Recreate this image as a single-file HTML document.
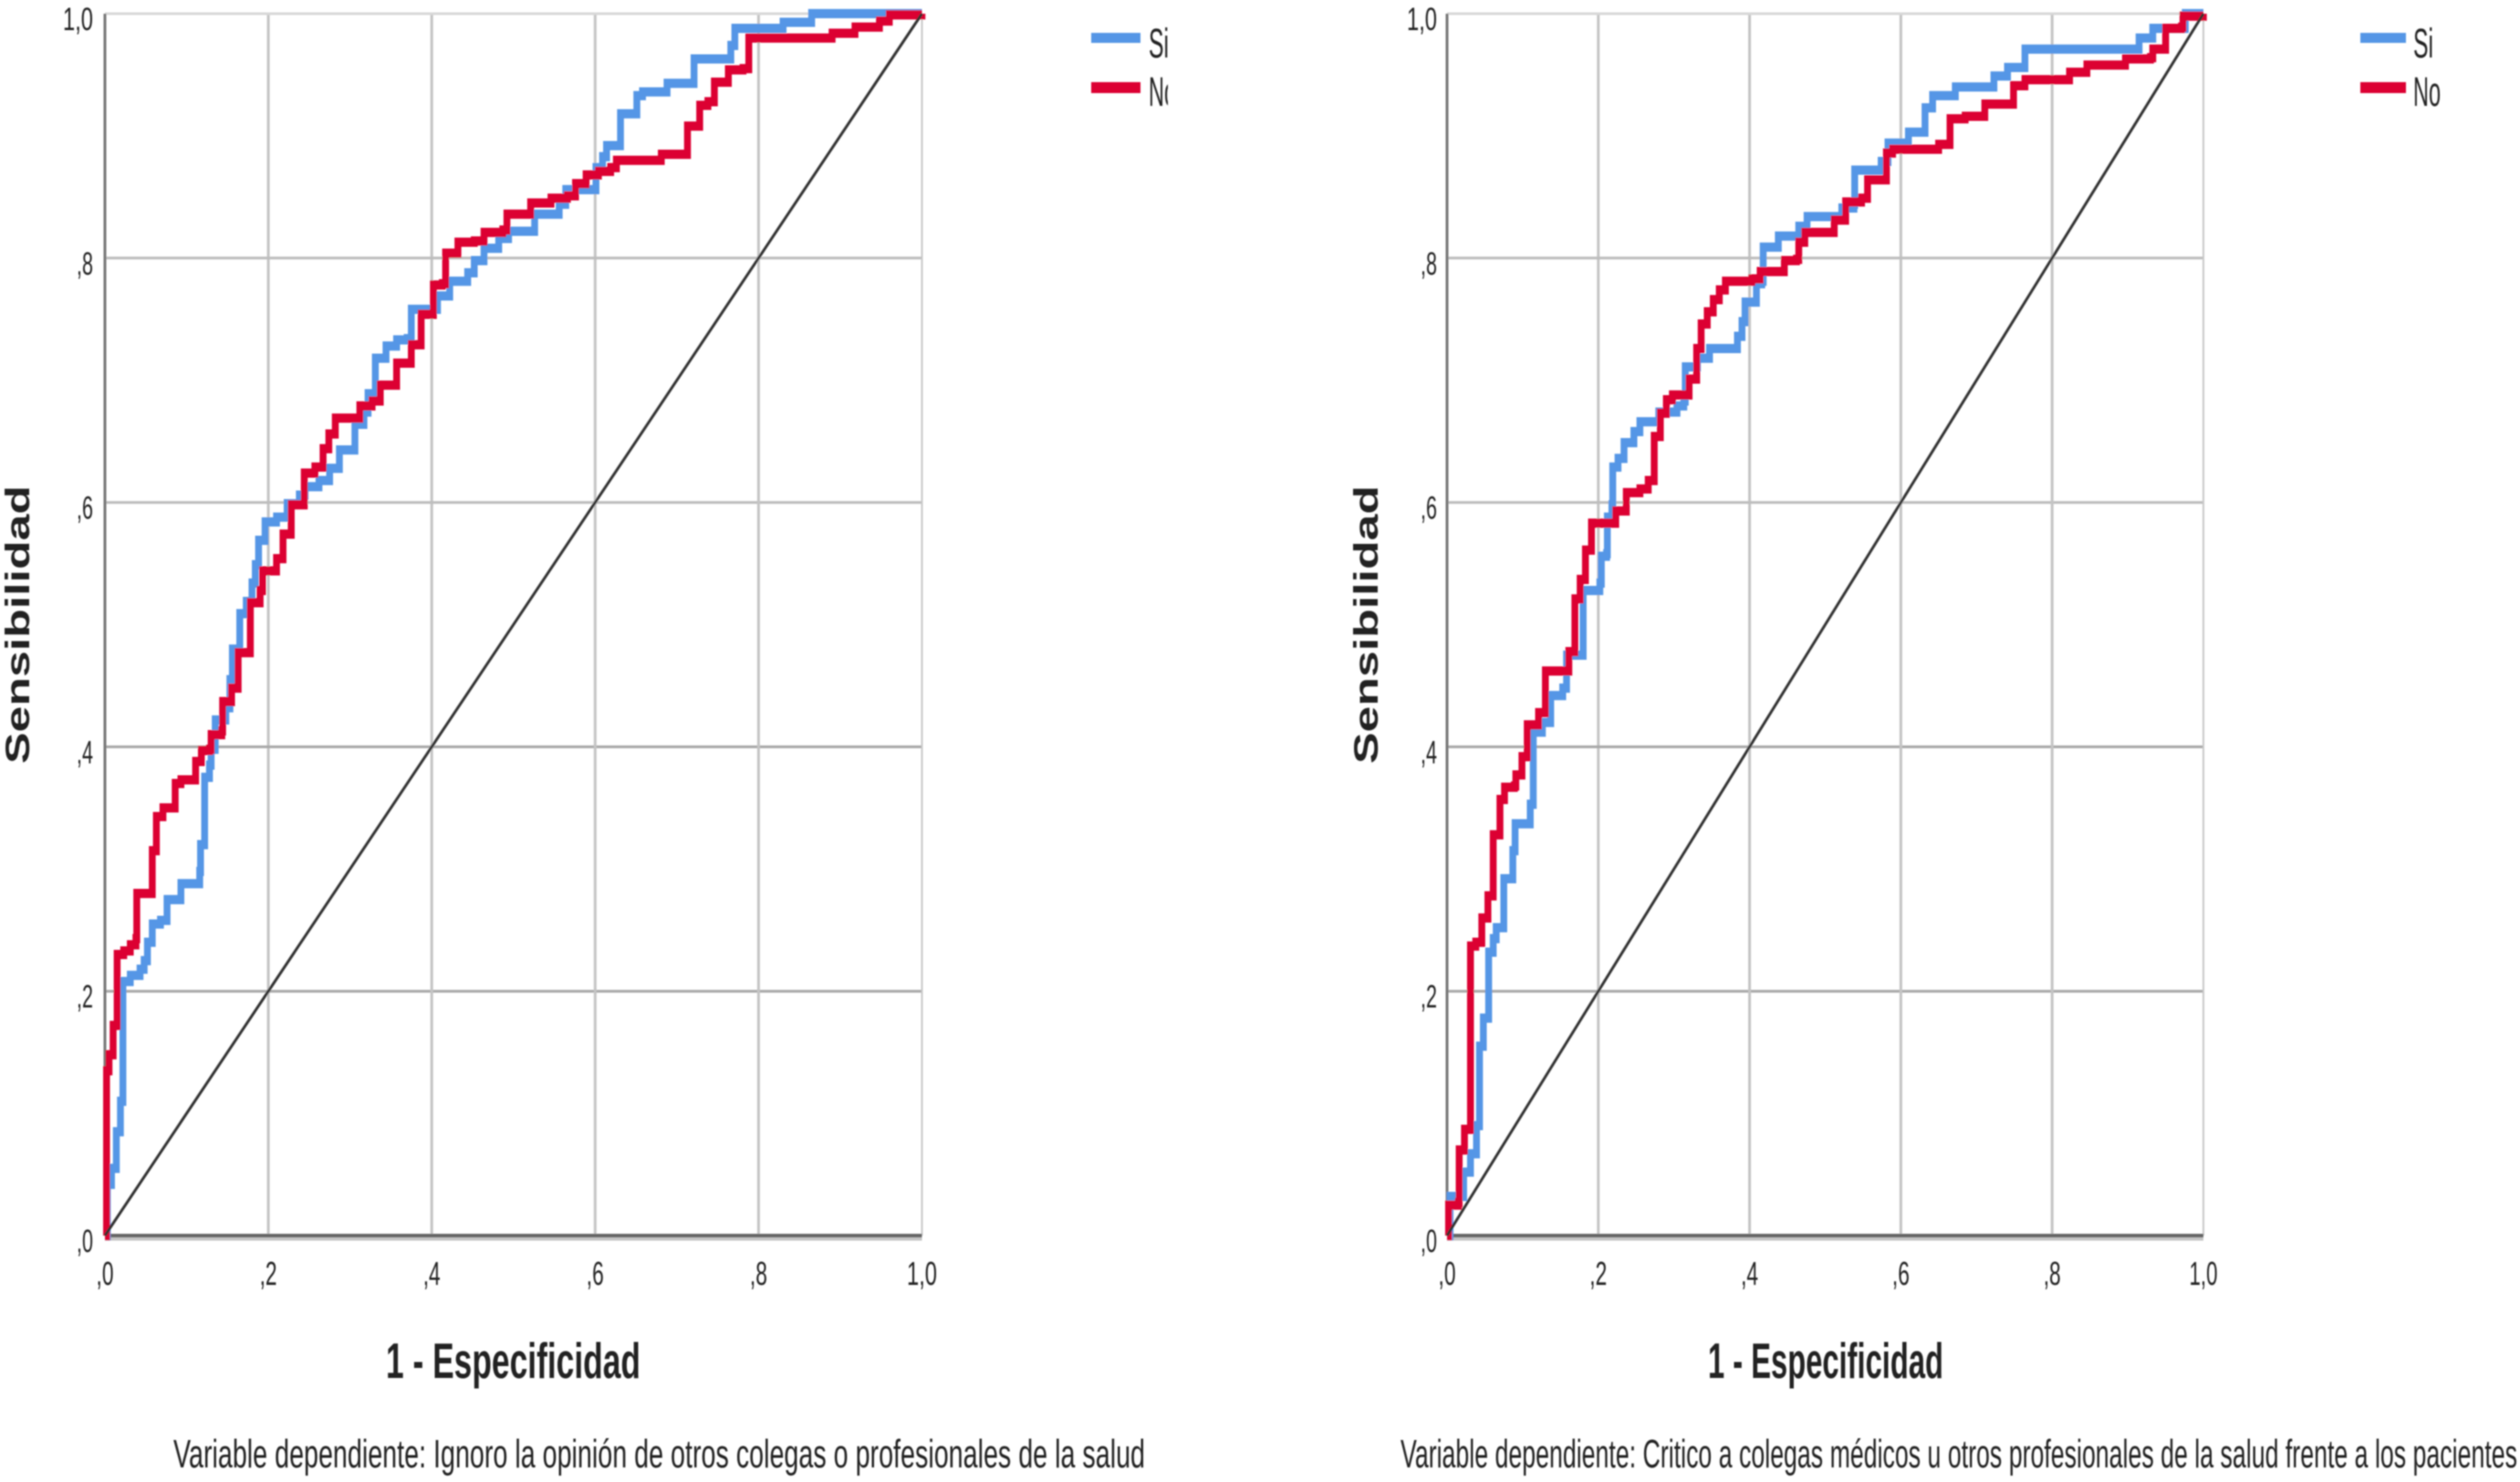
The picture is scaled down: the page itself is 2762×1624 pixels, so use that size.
<!DOCTYPE html>
<html lang="es">
<head>
<meta charset="utf-8">
<title>Curvas ROC</title>
<style>
html,body{margin:0;padding:0;background:#fff;}
svg{display:block;}
text{font-family:"Liberation Sans",sans-serif;fill:#222;}
</style>
</head>
<body>
<svg id="root" xmlns="http://www.w3.org/2000/svg" width="2762" height="1624" viewBox="0 0 2762 1624">
  <defs>
    <filter id="soft" x="-2%" y="-2%" width="104%" height="104%"><feGaussianBlur stdDeviation="0.9"/></filter>
    <clipPath id="legend-clip-left"><rect x="1190" y="0" width="90" height="140"/></clipPath>
  </defs>
  <g id="scene" filter="url(#soft)">
    <g id="chart-left"></g>
    <g id="chart-right"></g>

    <text transform="translate(32,837) rotate(-90)" font-size="37" font-weight="bold" textLength="305" lengthAdjust="spacingAndGlyphs">Sensibilidad</text>
    <text transform="translate(1510,837) rotate(-90)" font-size="37" font-weight="bold" textLength="305" lengthAdjust="spacingAndGlyphs">Sensibilidad</text>

    <text x="423" y="1510" font-size="55" font-weight="bold" textLength="279" lengthAdjust="spacingAndGlyphs">1 - Especificidad</text>
    <text x="1872" y="1510" font-size="55" font-weight="bold" textLength="258" lengthAdjust="spacingAndGlyphs">1 - Especificidad</text>

    <text x="190" y="1608" font-size="44" textLength="1065" lengthAdjust="spacingAndGlyphs">Variable dependiente: Ignoro la opinión de otros colegas o profesionales de la salud</text>
    <text x="1535" y="1608" font-size="44" textLength="1224" lengthAdjust="spacingAndGlyphs">Variable dependiente: Critico a colegas médicos u otros profesionales de la salud frente a los pacientes</text>

    <g>
      <rect x="1196" y="36" width="54" height="11" fill="#5596e6"/>
      <rect x="1196" y="90" width="54" height="12" fill="#dc0032"/>
      <g clip-path="url(#legend-clip-left)">
        <text x="1259" y="63" font-size="45" textLength="22" lengthAdjust="spacingAndGlyphs">Si</text>
        <text x="1259" y="116" font-size="45" textLength="30" lengthAdjust="spacingAndGlyphs">No</text>
      </g>
    </g>
    <g>
      <rect x="2587" y="36" width="50" height="11" fill="#5596e6"/>
      <rect x="2587" y="90" width="50" height="12" fill="#dc0032"/>
      <text x="2645" y="63" font-size="45" textLength="22" lengthAdjust="spacingAndGlyphs">Si</text>
      <text x="2645" y="116" font-size="45" textLength="30" lengthAdjust="spacingAndGlyphs">No</text>
    </g>
  </g>
</svg>
<script>
const tickValues = [0, 0.2, 0.4, 0.6, 0.8, 1];
const tickLabels = [",0", ",2", ",4", ",6", ",8", "1,0"];
const referenceFpr = [0, 1];
const referenceTpr = [0, 1];

const leftSiFpr = [0,.003,.008,.014,.019,.022,.031,.043,.048,.052,.058,.068,.076,.093,.093,.108,.116,.117,.121,.122,.128,.130,.135,.148,.153,.156,.165,.173,.180,.184,.188,.196,.196,.210,.223,.238,.245,.262,.275,.287,.287,.306,.306,.317,.322,.331,.331,.344,.344,.357,.370,.375,.404,.407,.422,.444,.452,.464,.482,.494,.524,.526,.554,.556,.564,.586,.601,.609,.614,.628,.631,.651,.651,.658,.688,.688,.721,.721,.758,.766,.771,.830,.830,.855,.865,1];
const leftSiTpr = [0,.042,.055,.085,.110,.208,.213,.218,.225,.240,.255,.258,.275,.275,.288,.288,.298,.320,.320,.375,.385,.398,.422,.432,.455,.480,.509,.519,.534,.549,.569,.569,.584,.588,.599,.606,.613,.618,.628,.628,.643,.643,.664,.674,.689,.689,.718,.718,.728,.733,.734,.758,.758,.769,.781,.788,.798,.808,.816,.822,.822,.836,.836,.844,.856,.856,.874,.883,.892,.892,.918,.918,.933,.936,.936,.943,.943,.963,.963,.974,.988,.988,.993,.993,1,1];

const leftNoFpr = [0,.002,.005,.005,.010,.010,.015,.015,.023,.031,.038,.039,.058,.058,.063,.063,.071,.086,.086,.093,.111,.111,.118,.128,.130,.143,.144,.155,.163,.163,.178,.178,.190,.193,.210,.218,.228,.228,.244,.244,.257,.267,.267,.274,.282,.282,.312,.312,.327,.337,.357,.357,.375,.375,.387,.387,.402,.402,.413,.417,.432,.432,.452,.464,.487,.492,.516,.521,.544,.546,.566,.576,.589,.604,.619,.626,.681,.681,.706,.713,.713,.728,.728,.738,.746,.763,.763,.781,.788,.890,.890,.915,.918,.948,.948,.960,1];
const leftNoTpr = [0,.135,.135,.148,.148,.172,.172,.230,.233,.238,.243,.280,.280,.315,.315,.343,.350,.350,.370,.373,.373,.388,.397,.398,.410,.413,.437,.448,.448,.477,.480,.518,.528,.544,.554,.574,.584,.598,.598,.624,.629,.629,.644,.656,.656,.669,.669,.679,.683,.696,.696,.714,.714,.729,.738,.754,.764,.778,.779,.804,.804,.813,.814,.821,.823,.836,.836,.845,.845,.849,.851,.861,.868,.871,.874,.880,.880,.885,.885,.894,.908,.908,.925,.928,.944,.944,.954,.955,.980,.980,.984,.984,.989,.989,.994,.999,1];

const rightSiFpr = [0,.004,.011,.022,.031,.031,.039,.039,.043,.043,.048,.048,.055,.055,.061,.065,.075,.075,.086,.087,.090,.110,.110,.114,.114,.126,.134,.137,.153,.158,.169,.180,.180,.202,.204,.211,.212,.218,.219,.226,.234,.247,.247,.255,.277,.280,.299,.304,.313,.315,.323,.331,.347,.379,.384,.390,.394,.406,.409,.416,.418,.438,.438,.462,.465,.476,.508,.522,.538,.539,.573,.574,.583,.610,.610,.624,.632,.642,.672,.672,.723,.723,.741,.757,.764,.912,.915,.930,.933,.976,.976,1];
const rightSiTpr = [0,.032,.032,.052,.052,.067,.067,.090,.105,.155,.155,.178,.183,.232,.243,.252,.252,.292,.292,.315,.337,.337,.353,.355,.412,.420,.420,.442,.448,.475,.475,.488,.528,.534,.556,.558,.588,.598,.629,.636,.649,.649,.658,.666,.666,.674,.674,.679,.683,.711,.711,.718,.726,.726,.736,.748,.764,.764,.779,.781,.809,.809,.818,.818,.826,.834,.834,.841,.844,.872,.872,.879,.894,.894,.903,.903,.923,.933,.933,.940,.940,.949,.956,.956,.971,.971,.980,.980,.988,.988,1,1];

const rightNoFpr = [0,.002,.015,.016,.023,.023,.031,.031,.038,.046,.046,.054,.054,.061,.061,.070,.070,.076,.076,.089,.091,.099,.099,.106,.106,.121,.121,.130,.130,.161,.161,.169,.169,.176,.183,.191,.191,.220,.223,.237,.237,.255,.266,.274,.274,.282,.282,.290,.298,.320,.320,.330,.330,.336,.344,.352,.360,.368,.403,.414,.444,.446,.462,.465,.473,.511,.512,.527,.527,.548,.556,.581,.581,.589,.647,.650,.665,.665,.685,.685,.711,.711,.749,.749,.764,.815,.823,.846,.846,.889,.897,.930,.933,.945,.950,.971,.973,1];
const rightNoTpr = [0,.025,.027,.070,.070,.087,.087,.237,.240,.243,.260,.262,.278,.278,.328,.328,.357,.358,.367,.368,.377,.378,.392,.393,.418,.418,.428,.428,.462,.462,.478,.480,.521,.537,.561,.563,.583,.583,.593,.593,.608,.611,.618,.621,.654,.654,.673,.684,.688,.689,.701,.703,.726,.746,.756,.766,.774,.781,.783,.789,.789,.798,.799,.813,.821,.821,.831,.836,.846,.849,.864,.868,.886,.889,.889,.893,.893,.914,.914,.916,.916,.926,.926,.941,.946,.946,.952,.954,.958,.958,.963,.964,.971,.971,.988,.989,.998,1];

const SVG_NS = "http://www.w3.org/2000/svg";
const LINE_STRETCH = 1.35;

function make(tag, parent, attrs) {
  const el = document.createElementNS(SVG_NS, tag);
  for (const key in attrs) el.setAttribute(key, attrs[key]);
  parent.appendChild(el);
  return el;
}

function stepPath(fpr, tpr, xScale, yScale) {
  let d = "M" + xScale(fpr[0]).toFixed(1) + " " + (yScale(tpr[0]) / LINE_STRETCH).toFixed(1);
  for (let i = 1; i < fpr.length; i++) {
    const px = xScale(fpr[i]).toFixed(1);
    d += "L" + px + " " + (yScale(tpr[i - 1]) / LINE_STRETCH).toFixed(1);
    d += "L" + px + " " + (yScale(tpr[i]) / LINE_STRETCH).toFixed(1);
  }
  return d;
}

function drawChart(host, side, x0, x1, y0, y1, yLabelRight, xLabelWide, siFpr, siTpr, noFpr, noTpr) {
  const xScale = v => x0 + v * (x1 - x0);
  const yScale = v => y0 + v * (y1 - y0);

  tickValues.forEach((v, i) => {
    if (i === 0) return;
    const gx = make("line", host, {x1: xScale(v), x2: xScale(v), y1: y1, y2: y0, stroke: i === 5 ? "#c9c9c9" : "#c4c4c4", "stroke-width": i === 5 ? 2 : 3});
    
    
    const gy = make("line", host, {x1: x0, x2: x1, y1: yScale(v), y2: yScale(v), stroke: i === 5 ? "#d8d8d8" : (v >= 0.6 ? "#bdbdbd" : "#a8a8a8"), "stroke-width": 3});
    
    
  });

  const yAxis = make("line", host, {x1: x0, x2: x0, y1: y1, y2: y0, stroke: "#777", "stroke-width": 3});
  
  

  const xAxisShadow = make("line", host, {x1: x0, x2: x1, y1: y0 + 3, y2: y0 + 3, stroke: "#c4c4c4", "stroke-width": 5});
  
  

  const xAxis = make("line", host, {x1: x0, x2: x1, y1: y0, y2: y0, stroke: "#666", "stroke-width": 4});
  
  

  const curves = make("g", host, {transform: "scale(1 " + LINE_STRETCH + ")", fill: "none", "stroke-linejoin": "miter", "stroke-linecap": "butt"});
  
  

  const siLine = make("path", curves, {d: stepPath(siFpr, siTpr, xScale, yScale), stroke: "#5596e6", "stroke-width": 7.5});
  
  

  const noLine = make("path", curves, {d: stepPath(noFpr, noTpr, xScale, yScale), stroke: "#dc0032", "stroke-width": 7.5});
  
  

  const diag = make("line", host, {x1: xScale(referenceFpr[0]), y1: yScale(referenceTpr[0]), x2: xScale(referenceFpr[1]), y2: yScale(referenceTpr[1]), stroke: "#333", "stroke-width": 3});
  
  

  tickValues.forEach((v, i) => {
    const label = tickLabels[i];
    const wide = label.length > 2;
    const xt = make("text", host, {x: xScale(v), y: 1408, "font-size": 36, "text-anchor": "middle", textLength: wide ? xLabelWide : 19, lengthAdjust: "spacingAndGlyphs"});
    xt.textContent = label;
    
    
    const yt = make("text", host, {x: yLabelRight, y: yScale(v) + 18, "font-size": 35, "text-anchor": "end", textLength: wide ? 33 : 18, lengthAdjust: "spacingAndGlyphs"});
    yt.textContent = label;
    
    
  });
}

drawChart(document.getElementById("chart-left"), "left", 115, 1010.5, 1354, 15, 102, 33, leftSiFpr, leftSiTpr, leftNoFpr, leftNoTpr);
drawChart(document.getElementById("chart-right"), "right", 1586, 2415, 1354, 15, 1575, 31, rightSiFpr, rightSiTpr, rightNoFpr, rightNoTpr);
</script>
</body>
</html>
